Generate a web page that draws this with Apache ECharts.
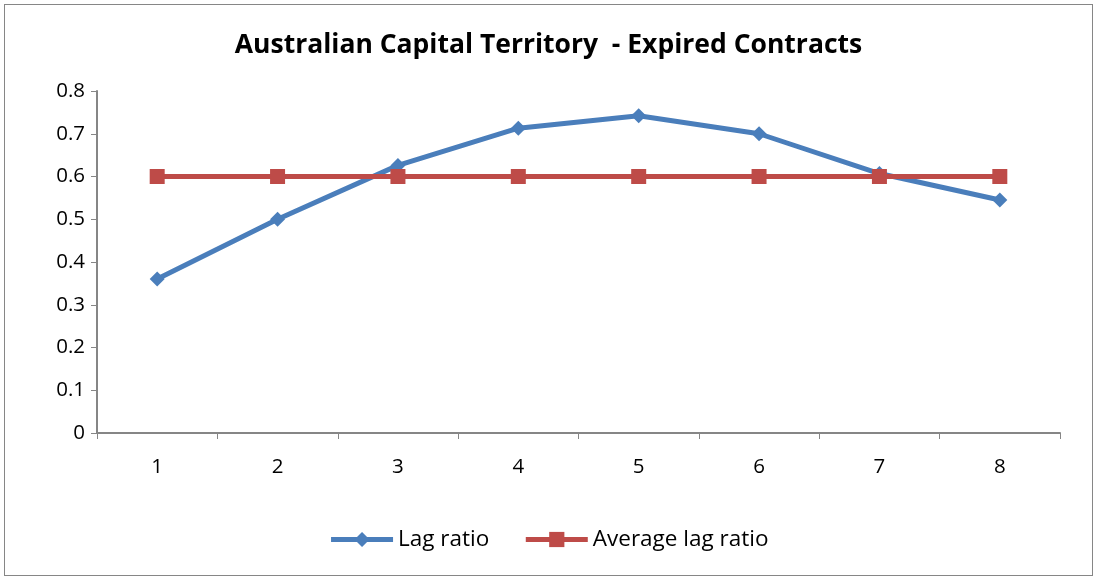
<!DOCTYPE html>
<html>
<head>
<meta charset="utf-8">
<script src="https://cdn.jsdelivr.net/npm/echarts@6/dist/echarts.min.js"></script>
<style>
  html, body { margin: 0; padding: 0; background: #fff; }
  #main { position: absolute; left: 4px; top: 4px; width: 1087px; height: 570px; border: 1px solid #868686; }
</style>
</head>
<body>
<div id="main"></div>
<script>
// data
var categories = ['1', '2', '3', '4', '5', '6', '7', '8'];
var lagRatio = [0.36, 0.50, 0.626, 0.713, 0.742, 0.70, 0.607, 0.545];
var avgLagRatio = [0.60, 0.60, 0.60, 0.60, 0.60, 0.60, 0.60, 0.60];

var chart = echarts.init(document.getElementById('main'));

var font = '"Open Sans", sans-serif';

var option = {
    animation: false,
    title: {
        text: 'Australian Capital Territory  - Expired Contracts',
        left: 'center',
        top: 22,
        textStyle: { fontFamily: font, fontSize: 26.5, fontWeight: 'bold', color: '#000' }
    },
    legend: {
        bottom: 19,
        left: 'center',
        itemWidth: 62,
        itemHeight: 19,
        itemGap: 34,
        itemStyle: { borderWidth: 0 },
        lineStyle: { width: 5 },
        textStyle: { fontFamily: font, fontSize: 22.5, color: '#000' },
        data: ['Lag ratio', 'Average lag ratio']
    },
    grid: { left: 92, right: 32, top: 86, bottom: 142 },
    xAxis: {
        type: 'category',
        data: categories,
        boundaryGap: true,
        axisLine: { lineStyle: { color: '#868686', width: 2 } },
        axisTick: { show: true, length: 6, lineStyle: { color: '#868686' } },
        axisLabel: { fontFamily: font, fontSize: 20.5, color: '#000', margin: 24 }
    },
    yAxis: {
        type: 'value',
        min: 0,
        max: 0.8,
        interval: 0.1,
        splitLine: { show: false },
        axisLine: { show: true, lineStyle: { color: '#868686', width: 2 } },
        axisTick: { show: true, length: 6, lineStyle: { color: '#868686' } },
        axisLabel: { fontFamily: font, fontSize: 20.5, color: '#000', margin: 12,
            formatter: function (v) { return String(Math.round(v * 10) / 10); } }
    },
    series: [
        {
            name: 'Lag ratio',
            type: 'line',
            data: lagRatio,
            symbol: 'diamond',
            symbolSize: 15,
            itemStyle: { color: '#4a7ebb' },
            lineStyle: { color: '#4a7ebb', width: 5 }
        },
        {
            name: 'Average lag ratio',
            type: 'line',
            data: avgLagRatio,
            symbol: 'rect',
            symbolSize: 15,
            itemStyle: { color: '#be4b48' },
            lineStyle: { color: '#be4b48', width: 5 }
        }
    ]
};
chart.setOption(option);
</script>
</body>
</html>
